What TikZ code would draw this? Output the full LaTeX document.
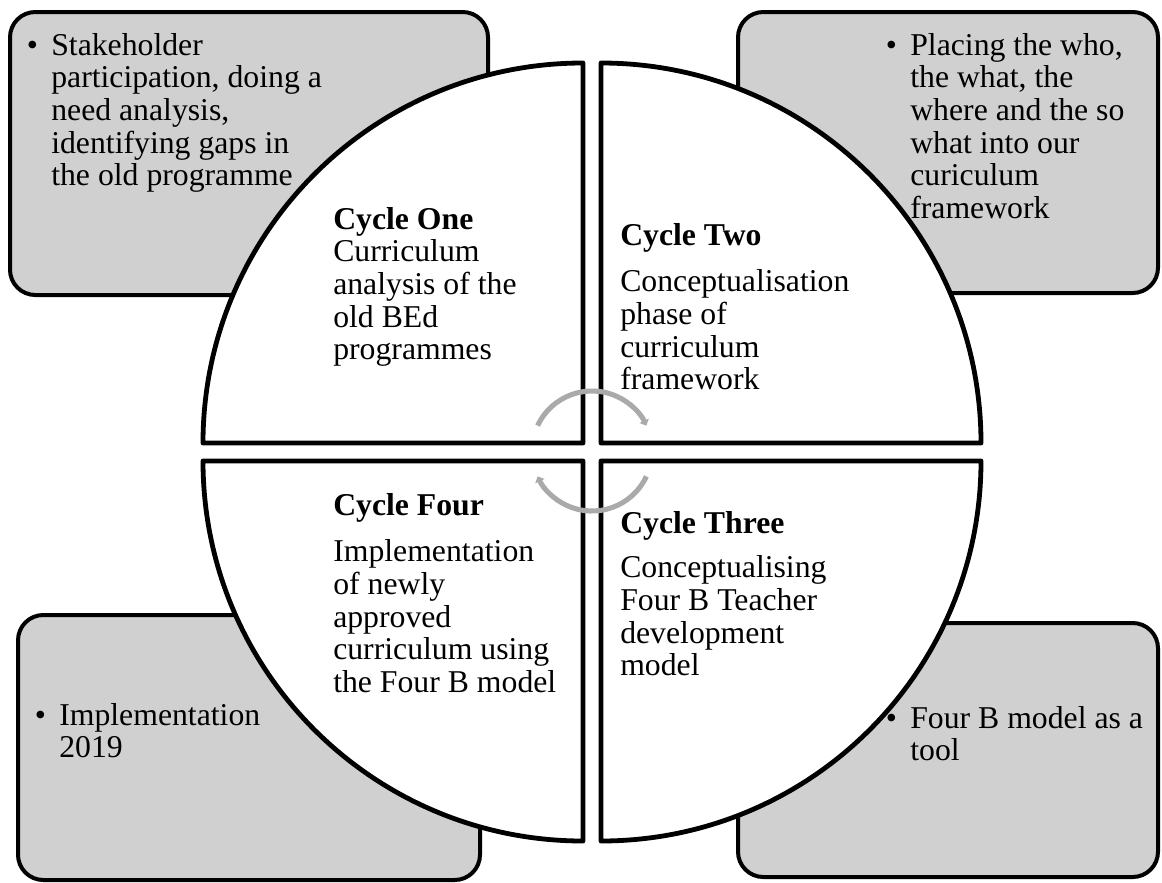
\documentclass[tikz,border=0pt]{standalone}
\usepackage{fontspec}
\setmainfont{Liberation Serif}
\usepackage{tikz}
\usetikzlibrary{arrows.meta}
\usepackage{xcolor}

\definecolor{boxgrey}{RGB}{208,208,208}
\definecolor{arrowgrey}{RGB}{170,170,170}

\tikzset{
  corner box/.style={draw=black, line width=3pt, fill=boxgrey, rounded corners=19pt},
  quarter/.style={draw=black, line width=3.6pt, fill=white, line join=round},
  turn arrow/.style={draw=arrowgrey, line width=3.8pt, -{Triangle[length=4pt,width=7.5pt]}},
  txt/.style={anchor=base west, inner sep=0pt, font=\fontsize{23.8}{24.5}\selectfont}
}

% bullet list with hanging indent
\newcommand{\bulletrows}[1]{\begin{tabular}[t]{@{}p{18.4pt}@{}l@{}}#1\end{tabular}}
\newcommand{\cyclerows}[1]{\begin{tabular}[t]{@{}l@{}}#1\end{tabular}}

\begin{document}
\begin{tikzpicture}[x=0.75pt,y=0.75pt,yscale=-1,xscale=1]
        \useasboundingbox (0,0) rectangle (1162,882);
        %Rounded Rect: top left
        \draw [corner box] (10,12) rectangle (488,295);
        %Rounded Rect: top right
        \draw [corner box] (738,12) rectangle (1158,293);
        %Rounded Rect: bottom left
        \draw [corner box] (18,615) rectangle (480,880);
        %Rounded Rect: bottom right
        \draw [corner box] (738,623) rectangle (1158,877);
        %Quarter: cycle one
        \draw [quarter] (583,443) -- (203,443) arc[start angle=180, end angle=270, radius=380] -- cycle;
        %Quarter: cycle two
        \draw [quarter] (601,443) -- (601,63) arc[start angle=270, end angle=360, radius=380] -- cycle;
        %Quarter: cycle three
        \draw [quarter] (601,461) -- (981,461) arc[start angle=0, end angle=90, radius=380] -- cycle;
        %Quarter: cycle four
        \draw [quarter] (583,461) -- (583,841) arc[start angle=90, end angle=180, radius=380] -- cycle;
        %Curve Lines
        \draw [turn arrow] (592,451) ++(205:60) arc[start angle=205, end angle=335, radius=60];
        \draw [turn arrow] (592,451) ++(25:60) arc[start angle=25, end angle=155, radius=60];
        % Text Node
        \draw (333,229) node (one) [txt] {\cyclerows{\textbf{Cycle One}\\ Curriculum\\ analysis of the\\ old BEd\\ programmes}};
        % Text Node
        \draw (620,245) node (two) [txt] {\cyclerows{\textbf{Cycle Two}\\[10.5pt] Conceptualisation\\ phase of\\ curriculum\\ framework}};
        % Text Node
        \draw (620,533) node (three) [txt] {\cyclerows{\textbf{Cycle Three}\\[9pt] Conceptualising\\ Four B Teacher\\ development\\ model}};
        % Text Node
        \draw (333,515) node (four) [txt] {\cyclerows{\textbf{Cycle Four}\\[10.5pt] Implementation\\ of newly\\ approved\\ curriculum using\\ the Four B model}};
        % Text Node
        \draw (26.5,55) node (stake) [txt] {\bulletrows{\textbullet & Stakeholder\\ & participation, doing a\\ & need analysis,\\ & identifying gaps in\\ & the old programme}};
        % Text Node
        \draw (885.5,55) node (placing) [txt] {\bulletrows{\textbullet & Placing the who,\\ & the what, the\\ & where and the so\\ & what into our\\ & curiculum\\ & framework}};
        % Text Node
        \draw (34.5,725) node (impl) [txt] {\bulletrows{\textbullet & Implementation\\ & 2019}};
        % Text Node
        \draw (885.5,728) node (tool) [txt] {\bulletrows{\textbullet & Four B model as a\\ & tool}};
\end{tikzpicture}
\end{document}
